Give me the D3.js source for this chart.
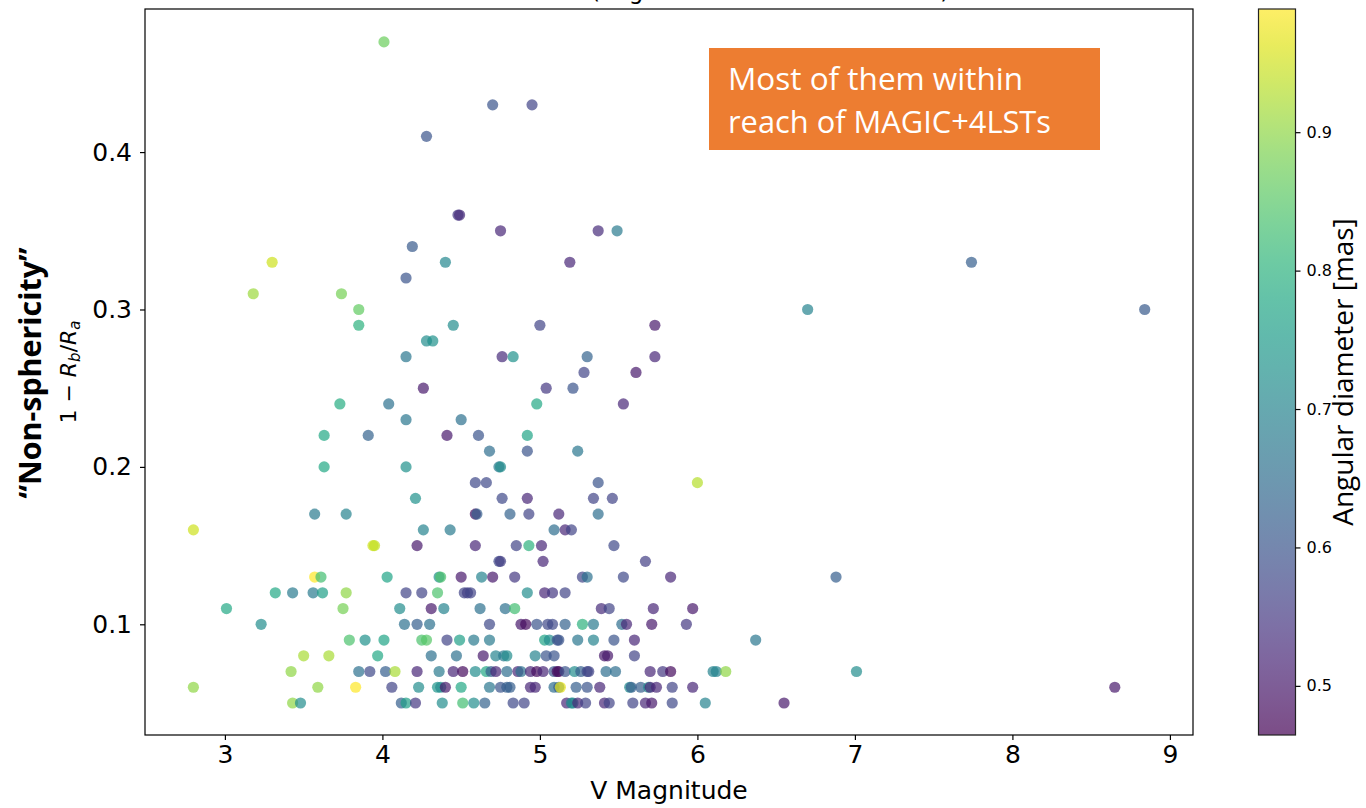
<!DOCTYPE html>
<html>
<head>
<meta charset="utf-8">
<script src="https://cdn.jsdelivr.net/npm/d3@7"></script>
<style>
  html, body { margin: 0; padding: 0; background: #fff; }
  svg { display: block; }
</style>
</head>
<body>
<svg id="chart" width="1366" height="808"></svg>
<script>
// V magnitude of each star
const vMagnitude = [
  4.01, 4.70, 4.28, 4.48, 4.49, 4.75, 4.19, 3.30, 4.40, 4.15,
  3.18, 3.74, 3.85, 3.85, 4.45, 4.28, 4.32, 4.15, 4.76, 4.83,
  4.95, 5.37, 5.49, 5.19, 6.70, 5.00, 5.73, 5.30, 5.73,
  7.74, 8.84, 8.65,
  4.26, 3.73, 4.04, 4.15, 4.50, 3.63, 3.91, 4.41, 4.61, 4.68,
  3.63, 4.15, 4.74, 4.75, 4.59, 4.66, 4.21, 4.76, 3.57, 3.77,
  4.59, 4.60, 4.81, 2.80, 4.26, 4.43, 3.94, 3.95, 4.22, 4.59,
  4.85, 4.74, 4.75, 3.57, 3.61, 4.03, 4.36, 4.37, 4.50, 4.63,
  4.70, 4.84, 3.32, 3.43, 3.56, 3.62, 3.77, 4.15, 4.25, 4.35,
  4.52, 4.54, 4.56, 3.01, 3.75, 4.11, 4.31, 4.39, 4.62, 4.78,
  4.84, 3.23, 4.14, 4.22, 4.30, 4.68, 3.79, 3.89, 4.01, 4.25,
  4.28, 4.41, 4.49, 4.58, 4.68, 3.50, 3.66, 3.97, 4.31, 4.47,
  4.64, 4.72, 4.77, 4.79, 3.42, 3.85, 3.92, 4.02, 4.08, 4.22,
  4.36, 4.45, 4.51, 4.59, 4.66, 4.69, 4.72, 4.79, 4.86, 2.80,
  3.59, 3.83, 4.06, 4.23, 4.35, 4.37, 4.40, 4.50, 4.68, 4.75,
  4.79, 4.81, 3.43, 3.48, 4.12, 4.15, 4.21, 4.38, 4.51, 4.58,
  4.65, 4.83,
  5.28, 5.61, 5.04, 5.21, 4.98, 5.53, 4.92, 4.92, 5.24, 5.37,
  6.00, 4.92, 5.34, 5.46, 4.93, 5.12, 5.37, 5.09, 5.16, 5.20,
  4.93, 5.01, 5.47, 5.02, 5.67, 5.27, 5.30, 5.53, 5.83, 6.88,
  4.92, 5.03, 5.08, 5.16, 5.39, 5.44, 5.72, 5.97, 4.88, 4.91,
  4.98, 5.05, 5.08, 5.16, 5.27, 5.34, 5.52, 5.55, 5.71, 5.93,
  5.03, 5.06, 5.11, 5.12, 5.24, 5.34, 5.47, 5.60, 6.37, 4.97,
  5.04, 5.09, 5.41, 5.43, 5.60, 4.88, 4.94, 4.98, 5.02, 5.09,
  5.11, 5.12, 5.16, 5.22, 5.26, 5.30, 5.31, 5.42, 5.48, 5.70,
  5.78, 5.83, 6.10, 6.12, 6.18, 7.01, 4.94, 4.97, 5.09, 5.12,
  5.13, 5.23, 5.30, 5.38, 5.57, 5.58, 5.64, 5.69, 5.70, 5.74,
  5.84, 5.97, 4.90, 5.17, 5.20, 5.21, 5.24, 5.29, 5.41, 5.44,
  5.59, 5.67, 5.71, 5.84, 6.05, 6.55
];

// Non-sphericity 1 - Rb/Ra
const nonSphericity = [
  0.47, 0.43, 0.41, 0.36, 0.36, 0.35, 0.34, 0.33, 0.33, 0.32,
  0.31, 0.31, 0.30, 0.29, 0.29, 0.28, 0.28, 0.27, 0.27, 0.27,
  0.43, 0.35, 0.35, 0.33, 0.30, 0.29, 0.29, 0.27, 0.27,
  0.33, 0.30, 0.06,
  0.25, 0.24, 0.24, 0.23, 0.23, 0.22, 0.22, 0.22, 0.22, 0.21,
  0.20, 0.20, 0.20, 0.20, 0.19, 0.19, 0.18, 0.18, 0.17, 0.17,
  0.17, 0.17, 0.17, 0.16, 0.16, 0.16, 0.15, 0.15, 0.15, 0.15,
  0.15, 0.14, 0.14, 0.13, 0.13, 0.13, 0.13, 0.13, 0.13, 0.13,
  0.13, 0.13, 0.12, 0.12, 0.12, 0.12, 0.12, 0.12, 0.12, 0.12,
  0.12, 0.12, 0.12, 0.11, 0.11, 0.11, 0.11, 0.11, 0.11, 0.11,
  0.11, 0.10, 0.10, 0.10, 0.10, 0.10, 0.09, 0.09, 0.09, 0.09,
  0.09, 0.09, 0.09, 0.09, 0.09, 0.08, 0.08, 0.08, 0.08, 0.08,
  0.08, 0.08, 0.08, 0.08, 0.07, 0.07, 0.07, 0.07, 0.07, 0.07,
  0.07, 0.07, 0.07, 0.07, 0.07, 0.07, 0.07, 0.07, 0.07, 0.06,
  0.06, 0.06, 0.06, 0.06, 0.06, 0.06, 0.06, 0.06, 0.06, 0.06,
  0.06, 0.06, 0.05, 0.05, 0.05, 0.05, 0.05, 0.05, 0.05, 0.05,
  0.05, 0.05,
  0.26, 0.26, 0.25, 0.25, 0.24, 0.24, 0.22, 0.21, 0.21, 0.19,
  0.19, 0.18, 0.18, 0.18, 0.17, 0.17, 0.17, 0.16, 0.16, 0.16,
  0.15, 0.15, 0.15, 0.14, 0.14, 0.13, 0.13, 0.13, 0.13, 0.13,
  0.12, 0.12, 0.12, 0.12, 0.11, 0.11, 0.11, 0.11, 0.10, 0.10,
  0.10, 0.10, 0.10, 0.10, 0.10, 0.10, 0.10, 0.10, 0.10, 0.10,
  0.09, 0.09, 0.09, 0.09, 0.09, 0.09, 0.09, 0.09, 0.09, 0.08,
  0.08, 0.08, 0.08, 0.08, 0.08, 0.07, 0.07, 0.07, 0.07, 0.07,
  0.07, 0.07, 0.07, 0.07, 0.07, 0.07, 0.07, 0.07, 0.07, 0.07,
  0.07, 0.07, 0.07, 0.07, 0.07, 0.07, 0.06, 0.06, 0.06, 0.06,
  0.06, 0.06, 0.06, 0.06, 0.06, 0.06, 0.06, 0.06, 0.06, 0.06,
  0.06, 0.06, 0.05, 0.05, 0.05, 0.05, 0.05, 0.05, 0.05, 0.05,
  0.05, 0.05, 0.05, 0.05, 0.05, 0.05
];

// Angular diameter in mas (colour scale)
const angularDiameter = [
  0.87, 0.60, 0.60, 0.55, 0.53, 0.52, 0.61, 0.95, 0.71, 0.60,
  0.91, 0.88, 0.86, 0.80, 0.72, 0.72, 0.73, 0.67, 0.53, 0.73,
  0.57, 0.53, 0.68, 0.52, 0.70, 0.57, 0.50, 0.63, 0.52,
  0.62, 0.61, 0.50,
  0.50, 0.79, 0.66, 0.67, 0.66, 0.78, 0.63, 0.50, 0.60, 0.65,
  0.78, 0.73, 0.68, 0.72, 0.58, 0.58, 0.73, 0.58, 0.68, 0.70,
  0.48, 0.62, 0.63, 0.95, 0.70, 0.68, 0.95, 0.94, 0.50, 0.52,
  0.57, 0.58, 0.56, 0.99, 0.83, 0.77, 0.72, 0.84, 0.50, 0.70,
  0.50, 0.55, 0.78, 0.68, 0.68, 0.76, 0.90, 0.57, 0.57, 0.84,
  0.57, 0.56, 0.57, 0.78, 0.88, 0.72, 0.50, 0.70, 0.66, 0.66,
  0.83, 0.72, 0.66, 0.62, 0.66, 0.58, 0.84, 0.73, 0.77, 0.84,
  0.85, 0.57, 0.76, 0.68, 0.68, 0.92, 0.92, 0.78, 0.66, 0.66,
  0.50, 0.70, 0.68, 0.72, 0.90, 0.66, 0.58, 0.62, 0.92, 0.52,
  0.68, 0.52, 0.48, 0.72, 0.78, 0.62, 0.52, 0.65, 0.52, 0.90,
  0.90, 0.99, 0.57, 0.72, 0.74, 0.72, 0.50, 0.78, 0.67, 0.60,
  0.62, 0.62, 0.90, 0.72, 0.62, 0.76, 0.55, 0.72, 0.83, 0.72,
  0.63, 0.58,
  0.57, 0.50, 0.55, 0.60, 0.78, 0.52, 0.77, 0.60, 0.67, 0.60,
  0.93, 0.52, 0.57, 0.57, 0.57, 0.52, 0.65, 0.65, 0.52, 0.57,
  0.80, 0.52, 0.58, 0.52, 0.56, 0.57, 0.66, 0.58, 0.52, 0.62,
  0.72, 0.52, 0.55, 0.57, 0.53, 0.57, 0.52, 0.50, 0.50, 0.48,
  0.60, 0.58, 0.58, 0.63, 0.80, 0.68, 0.65, 0.52, 0.50, 0.55,
  0.77, 0.72, 0.60, 0.60, 0.67, 0.70, 0.60, 0.52, 0.67, 0.70,
  0.60, 0.60, 0.50, 0.50, 0.57, 0.66, 0.52, 0.48, 0.52, 0.60,
  0.48, 0.48, 0.60, 0.72, 0.62, 0.58, 0.57, 0.65, 0.65, 0.52,
  0.55, 0.48, 0.70, 0.70, 0.90, 0.72, 0.52, 0.52, 0.65, 0.62,
  0.97, 0.62, 0.60, 0.52, 0.72, 0.62, 0.62, 0.72, 0.52, 0.52,
  0.57, 0.52, 0.57, 0.52, 0.70, 0.72, 0.52, 0.57, 0.52, 0.57,
  0.57, 0.52, 0.50, 0.58, 0.70, 0.50
];

const xTicks = [3, 4, 5, 6, 7, 8, 9];
const yTicks = [0.1, 0.2, 0.3, 0.4];
const colorTicks = [0.5, 0.6, 0.7, 0.8, 0.9];
const noteLines = ["Most of them within", "reach of MAGIC+4LSTs"];

const svg = d3.select("#chart");
const plot = { left: 145, right: 1193, top: 9, bottom: 735 };
const bar = { left: 1258.5, right: 1295.5, top: 9, bottom: 735 };
const tickFont = "DejaVu Sans, sans-serif";

const x = d3.scaleLinear().domain([2.4927, 9.1466]).range([plot.left, plot.right]);
const y = d3.scaleLinear().domain([0.02967, 0.4909]).range([plot.bottom, plot.top]);
const cDomain = [0.4645, 0.989];
const color = d3.scaleSequential(d3.interpolateViridis).domain(cDomain);
const alpha = 0.7;

// title line sitting above the top of the figure (only descenders show)
svg.append("text")
  .attr("x", 591).attr("y", -1.5)
  .attr("font-family", tickFont).attr("font-size", 23)
  .attr("fill", "#000")
  .text("(angular diameter > 0.45 mas)");

// scatter points
const points = vMagnitude.map((v, i) => ({ v, s: nonSphericity[i], d: angularDiameter[i] }));
svg.append("g")
  .selectAll("circle")
  .data(points)
  .join("circle")
  .attr("cx", d => x(d.v))
  .attr("cy", d => y(d.s))
  .attr("r", 5.6)
  .attr("fill", d => color(d.d))
  .attr("fill-opacity", alpha);

// axes frame
svg.append("rect")
  .attr("x", plot.left).attr("y", plot.top)
  .attr("width", plot.right - plot.left).attr("height", plot.bottom - plot.top)
  .attr("fill", "none").attr("stroke", "#000").attr("stroke-width", 1.2);

// x axis
const xAxis = svg.append("g")
  .attr("transform", `translate(0,${plot.bottom})`)
  .call(d3.axisBottom(x).tickValues(xTicks).tickSize(5).tickPadding(5).tickFormat(d3.format("d")));
xAxis.select(".domain").remove();
xAxis.selectAll("line").attr("stroke", "#000").attr("stroke-width", 1.2);
xAxis.selectAll("text").attr("font-family", tickFont).attr("font-size", 25).attr("fill", "#000");

// y axis
const yAxis = svg.append("g")
  .attr("transform", `translate(${plot.left},0)`)
  .call(d3.axisLeft(y).tickValues(yTicks).tickSize(5).tickPadding(8).tickFormat(d3.format(".1f")));
yAxis.select(".domain").remove();
yAxis.selectAll("line").attr("stroke", "#000").attr("stroke-width", 1.2);
yAxis.selectAll("text").attr("font-family", tickFont).attr("font-size", 25).attr("fill", "#000");

// axis titles
svg.append("text")
  .attr("x", (plot.left + plot.right) / 2).attr("y", 799)
  .attr("text-anchor", "middle")
  .attr("font-family", tickFont).attr("font-size", 25).attr("fill", "#000")
  .text("V Magnitude");

svg.append("text")
  .attr("transform", "translate(41,373) rotate(-90)")
  .attr("text-anchor", "middle")
  .attr("font-family", "Open Sans, Noto Sans, sans-serif").attr("font-weight", "bold")
  .attr("font-size", 30).attr("fill", "#000")
  .attr("textLength", 251).attr("lengthAdjust", "spacingAndGlyphs")
  .text("\u201CNon-sphericity\u201D");

const mathLabel = svg.append("text")
  .attr("transform", "translate(76,372) rotate(-90)")
  .attr("text-anchor", "middle")
  .attr("font-family", tickFont).attr("font-size", 22).attr("fill", "#000");
mathLabel.append("tspan").text("1 \u2212 ");
mathLabel.append("tspan").attr("font-style", "italic").text("R");
mathLabel.append("tspan").attr("font-style", "italic").attr("font-size", 15).attr("dy", 4).text("b");
mathLabel.append("tspan").attr("dy", -4).text("/");
mathLabel.append("tspan").attr("font-style", "italic").text("R");
mathLabel.append("tspan").attr("font-style", "italic").attr("font-size", 15).attr("dy", 4).text("a");

// note box
const note = svg.append("g");
note.append("rect")
  .attr("x", 709).attr("y", 48).attr("width", 391).attr("height", 102)
  .attr("fill", "#ED7D31");
noteLines.forEach((line, i) => {
  note.append("text")
    .attr("x", 728).attr("y", 90 + i * 42.7)
    .attr("font-family", "Open Sans, Noto Sans, sans-serif").attr("font-size", 31)
    .attr("fill", "#fff")
    .attr("textLength", i === 0 ? 295 : 323).attr("lengthAdjust", "spacingAndGlyphs")
    .text(line);
});

// colour bar
const defs = svg.append("defs");
const grad = defs.append("linearGradient")
  .attr("id", "viridisBar").attr("x1", 0).attr("y1", 1).attr("x2", 0).attr("y2", 0);
d3.range(0, 1.0001, 0.05).forEach(t => {
  grad.append("stop").attr("offset", t).attr("stop-color", d3.interpolateViridis(t));
});
svg.append("rect")
  .attr("x", bar.left).attr("y", bar.top)
  .attr("width", bar.right - bar.left).attr("height", bar.bottom - bar.top)
  .attr("fill", "url(#viridisBar)").attr("fill-opacity", alpha);
svg.append("rect")
  .attr("x", bar.left).attr("y", bar.top)
  .attr("width", bar.right - bar.left).attr("height", bar.bottom - bar.top)
  .attr("fill", "none").attr("stroke", "#222").attr("stroke-width", 1.2);

const cScale = d3.scaleLinear().domain(cDomain).range([bar.bottom, bar.top]);
const cAxis = svg.append("g")
  .attr("transform", `translate(${bar.right},0)`)
  .call(d3.axisRight(cScale).tickValues(colorTicks).tickSize(5).tickPadding(6).tickFormat(d3.format(".1f")));
cAxis.select(".domain").remove();
cAxis.selectAll("line").attr("stroke", "#000").attr("stroke-width", 1.2);
cAxis.selectAll("text").attr("font-family", tickFont).attr("font-size", 16).attr("fill", "#000");

svg.append("text")
  .attr("transform", `translate(1353,${(bar.top + bar.bottom) / 2}) rotate(-90)`)
  .attr("text-anchor", "middle")
  .attr("font-family", "Open Sans, Noto Sans, sans-serif").attr("font-size", 28).attr("fill", "#000")
  .text("Angular diameter [mas]");
</script>
</body>
</html>
